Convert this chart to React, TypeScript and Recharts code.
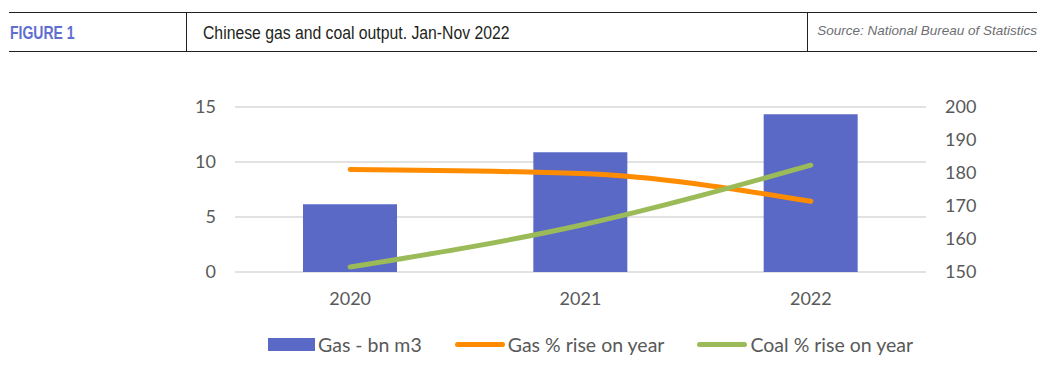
import { ComposedChart, Bar, Line, XAxis, YAxis, CartesianGrid } from 'recharts'

const years = ['2020', '2021', '2022']
const gasOutput = [6.16, 10.89, 14.34]
const gasRise = [9.32, 8.95, 6.43]
const coalRise = [0.45, 4.25, 9.71]

const leftTicks = [0, 5, 10, 15]
const rightTicks = [150, 160, 170, 180, 190, 200]

const seriesNames = ['Gas - bn m3', 'Gas % rise on year', 'Coal % rise on year']
const seriesColors = ['#5a69c6', '#ff8c00', '#9bbb59']

const data = years.map((year, i) => ({
    year,
    gas: gasOutput[i],
    gasRise: gasRise[i],
    coalRise: coalRise[i],
}))

const tickStyle = { fill: '#595959', fontSize: 18, fontFamily: 'Lato, "Open Sans", sans-serif' }
const rule = '1.5px solid #231f20'
const narrow = { fontFamily: '"Liberation Sans", sans-serif', transformOrigin: 'left center', whiteSpace: 'nowrap' as const }

function Header() {
    return (
        <div style={{ position: 'absolute', left: 9, top: 12, width: 1028, height: 40, borderTop: rule, borderBottom: rule, boxSizing: 'border-box' }}>
            <div style={{ position: 'absolute', left: 177, top: 0, bottom: 0, borderLeft: rule }} />
            <div style={{ position: 'absolute', left: 798, top: 0, bottom: 0, borderLeft: rule }} />
            <div style={{ ...narrow, position: 'absolute', left: 1, top: 10, fontWeight: 700, fontSize: 17.5, color: '#5f6fcf', transform: 'scaleX(0.8)' }}>
                FIGURE 1
            </div>
            <div style={{ ...narrow, position: 'absolute', left: 194, top: 10, fontSize: 17.5, color: '#231f20', transform: 'scaleX(0.9)' }}>
                Chinese gas and coal output. Jan-Nov 2022
            </div>
            <div style={{ position: 'absolute', right: 0, top: 10, fontFamily: '"Liberation Sans", sans-serif', fontStyle: 'italic', fontSize: 13.5, color: '#6d6e71', whiteSpace: 'nowrap' }}>
                Source: National Bureau of Statistics
            </div>
        </div>
    )
}

function ChartLegend() {
    return (
        <div style={{ position: 'absolute', left: 268, top: 333, display: 'flex', alignItems: 'center', fontFamily: 'Lato, "Open Sans", sans-serif', fontSize: 19.5, color: '#595959' }}>
            {seriesNames.map((name, i) => (
                <div key={name} style={{ display: 'flex', alignItems: 'center', marginRight: 33 }}>
                    <div
                        style={{
                            width: i === 0 ? 47 : 50,
                            height: i === 0 ? 13 : 5,
                            borderRadius: i === 0 ? 0 : 3,
                            background: seriesColors[i],
                            marginRight: 3,
                        }}
                    />
                    <span>{name}</span>
                </div>
            ))}
        </div>
    )
}

export default function App() {
    return (
        <div style={{ position: 'absolute', left: 0, top: 0, width: 1047, height: 372, background: '#fff' }}>
            <ComposedChart
                width={1047}
                height={372}
                data={data}
                margin={{ top: 107, right: 41, bottom: 70, left: 175 }}
            >
                <CartesianGrid yAxisId="left" vertical={false} stroke="#d9d9d9" strokeWidth={1.5} />
                <XAxis
                    dataKey="year"
                    axisLine={false}
                    tickLine={false}
                    tickSize={0}
                    tickMargin={20}
                    height={30}
                    tick={tickStyle}
                />
                <YAxis
                    yAxisId="left"
                    domain={[0, 15]}
                    ticks={leftTicks}
                    axisLine={false}
                    tickLine={false}
                    tickSize={0}
                    tickMargin={19}
                    width={60}
                    tick={tickStyle}
                />
                <YAxis
                    yAxisId="right"
                    orientation="right"
                    type="number"
                    domain={[150, 200]}
                    allowDataOverflow
                    ticks={rightTicks}
                    axisLine={false}
                    tickLine={false}
                    tickSize={0}
                    tickMargin={19}
                    width={80}
                    tick={tickStyle}
                />
                <Bar yAxisId="left" dataKey="gas" name={seriesNames[0]} fill={seriesColors[0]} barSize={94} isAnimationActive={false} />
                <Line
                    yAxisId="left"
                    type="monotone"
                    dataKey="gasRise"
                    name={seriesNames[1]}
                    stroke={seriesColors[1]}
                    strokeWidth={5}
                    strokeLinecap="round"
                    dot={false}
                    isAnimationActive={false}
                />
                <Line
                    yAxisId="left"
                    type="monotone"
                    dataKey="coalRise"
                    name={seriesNames[2]}
                    stroke={seriesColors[2]}
                    strokeWidth={5}
                    strokeLinecap="round"
                    dot={false}
                    isAnimationActive={false}
                />
            </ComposedChart>
            <Header />
            <ChartLegend />
        </div>
    )
}
